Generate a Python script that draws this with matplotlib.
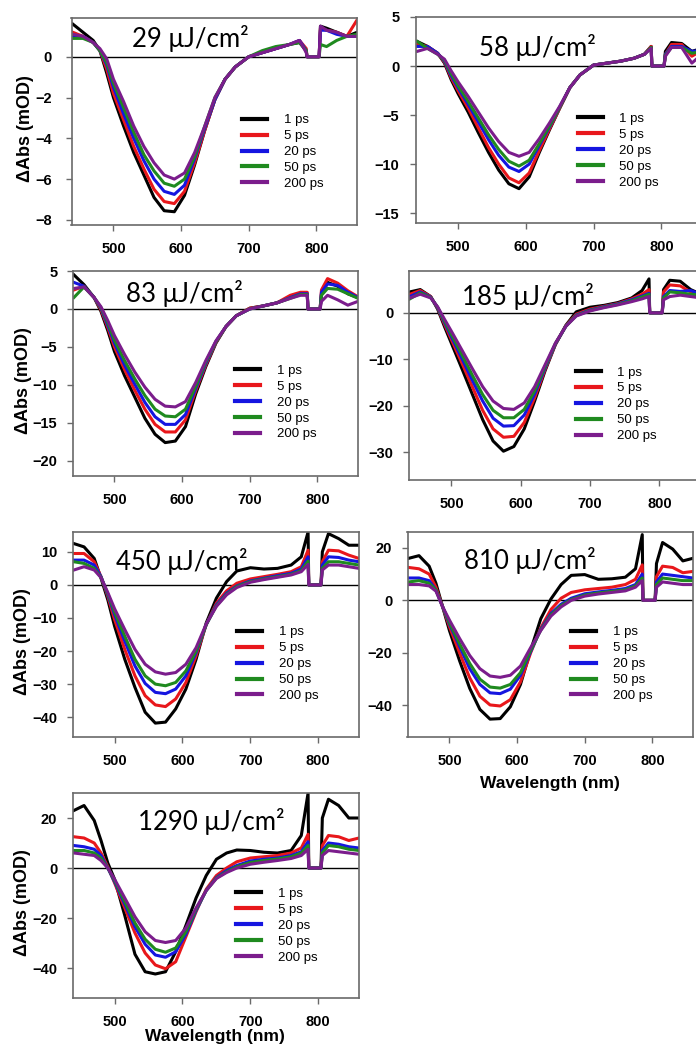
#!/usr/bin/env python3
"""Transient absorption spectra at seven pump fluences (7 panels)."""

import matplotlib

matplotlib.use("Agg")
import matplotlib.pyplot as plt

plt.rcParams["font.family"] = ["Liberation Sans", "DejaVu Sans"]

# ---- data ----
WAVELENGTH = [440, 455, 470, 480, 490, 500, 515, 530, 545, 560, 575, 590, 605,
              620, 635, 650, 665, 680, 700, 720, 740, 760, 775, 785, 786, 804,
              806, 815, 830, 845, 860]
DELAYS = ["1 ps", "5 ps", "20 ps", "50 ps", "200 ps"]
FLUENCES = [29, 58, 83, 185, 450, 810, 1290]

DA_29 = [
    [1.6, 1.2, 0.8, 0.3, -0.8, -2.0, -3.4, -4.7, -5.8, -6.9, -7.55, -7.6, -6.8, -5.3, -3.6, -2.1,
     -1.1, -0.5, 0.0, 0.2, 0.4, 0.6, 0.7, 0.3, 0.0, 0.0, 1.5, 1.4, 1.2, 1.0, 1.2],
    [1.2, 1.0, 0.7, 0.3, -0.6, -1.8, -3.1, -4.4, -5.5, -6.5, -7.1, -7.2, -6.6, -5.2, -3.6, -2.1,
     -1.1, -0.5, 0.0, 0.2, 0.4, 0.6, 0.8, 0.4, 0.0, 0.0, 1.4, 1.3, 1.2, 1.0, 1.8],
    [1.0, 1.0, 0.7, 0.3, -0.4, -1.5, -2.8, -4.0, -5.1, -6.0, -6.6, -6.75, -6.3, -5.0, -3.5, -2.1,
     -1.1, -0.5, 0.0, 0.2, 0.4, 0.6, 0.8, 0.3, 0.0, 0.0, 1.3, 1.3, 1.1, 1.0, 1.0],
    [0.9, 0.9, 0.7, 0.3, -0.3, -1.3, -2.5, -3.7, -4.8, -5.6, -6.2, -6.35, -6.0, -4.9, -3.4, -2.0,
     -1.1, -0.5, 0.0, 0.3, 0.5, 0.6, 0.7, 0.3, 0.0, 0.0, 0.6, 0.5, 0.8, 1.0, 1.1],
    [1.1, 1.0, 0.7, 0.4, -0.1, -1.1, -2.2, -3.4, -4.4, -5.2, -5.8, -6.0, -5.7, -4.7, -3.4, -2.0,
     -1.1, -0.5, 0.0, 0.2, 0.4, 0.6, 0.8, 0.2, 0.0, 0.0, 1.5, 1.3, 1.2, 1.0, 1.0],
]
DA_58 = [
    [2.5, 2.0, 1.3, 0.3, -1.4, -2.8, -4.7, -6.8, -8.8, -10.6, -12.0, -12.5, -11.3, -8.8, -6.5, -4.3,
     -2.2, -0.9, 0.1, 0.3, 0.5, 0.8, 1.2, 2.0, 0.0, 0.0, 1.5, 2.4, 2.3, 1.5, 1.8],
    [2.2, 2.0, 1.3, 0.4, -1.2, -2.5, -4.3, -6.3, -8.3, -10.0, -11.4, -11.9, -10.9, -8.6, -6.4, -4.3,
     -2.2, -0.9, 0.1, 0.3, 0.5, 0.8, 1.2, 2.0, 0.0, 0.0, 1.2, 2.2, 2.2, 1.0, 1.6],
    [2.0, 2.0, 1.3, 0.5, -1.0, -2.2, -3.9, -5.7, -7.5, -9.1, -10.3, -10.75, -10.0, -8.1, -6.2, -4.2,
     -2.2, -0.9, 0.1, 0.3, 0.5, 0.8, 1.2, 1.9, 0.0, 0.0, 1.2, 2.0, 2.0, 1.5, 1.6],
    [2.5, 1.8, 1.2, 0.6, -0.8, -2.0, -3.6, -5.3, -7.0, -8.5, -9.7, -10.2, -9.6, -7.9, -6.1, -4.2,
     -2.2, -0.9, 0.1, 0.3, 0.5, 0.8, 1.2, 1.9, 0.0, 0.0, 1.1, 1.9, 1.9, 1.3, 1.5],
    [1.5, 1.8, 1.2, 0.7, -0.5, -1.6, -3.1, -4.7, -6.3, -7.7, -8.8, -9.2, -8.8, -7.4, -5.8, -4.1,
     -2.2, -0.9, 0.1, 0.3, 0.5, 0.8, 1.2, 1.8, 0.0, 0.0, 1.0, 1.9, 1.9, 0.3, 1.2],
]
DA_83 = [
    [4.5, 3.2, 1.5, -0.3, -2.8, -5.6, -8.8, -11.6, -14.4, -16.5, -17.6, -17.4, -15.5, -11.2, -7.6, -4.5,
     -2.3, -0.9, 0.1, 0.4, 0.8, 1.5, 2.0, 2.0, 0.0, 0.0, 2.0, 3.5, 3.0, 2.0, 1.5],
    [2.5, 3.0, 1.5, -0.1, -2.4, -5.0, -8.0, -10.7, -13.2, -15.2, -16.2, -16.2, -14.6, -10.8, -7.4, -4.4,
     -2.3, -0.9, 0.1, 0.4, 0.8, 1.8, 2.2, 2.2, 0.0, 0.0, 2.5, 4.0, 3.4, 2.4, 1.6],
    [3.5, 3.0, 1.5, 0.1, -2.1, -4.5, -7.4, -9.9, -12.3, -14.2, -15.2, -15.2, -13.9, -10.5, -7.2, -4.3,
     -2.3, -0.9, 0.0, 0.4, 0.8, 1.5, 2.0, 2.0, 0.0, 0.0, 2.2, 3.3, 3.1, 2.2, 1.5],
    [1.5, 2.9, 1.5, 0.2, -1.8, -4.1, -6.8, -9.2, -11.4, -13.2, -14.1, -14.2, -13.2, -10.2, -7.0, -4.3,
     -2.3, -0.9, 0.0, 0.4, 0.8, 1.4, 1.9, 1.9, 0.0, 0.0, 1.8, 2.7, 2.6, 2.0, 1.4],
    [2.7, 2.9, 1.5, 0.3, -1.5, -3.5, -6.0, -8.3, -10.3, -11.9, -12.8, -12.9, -12.2, -9.7, -6.8, -4.2,
     -2.3, -0.9, 0.0, 0.4, 0.8, 1.4, 1.8, 1.8, 0.0, 0.0, 1.0, 1.8, 1.2, 0.5, 1.0],
]
DA_185 = [
    [4.5, 5.0, 3.5, 0.8, -3.0, -6.6, -12.0, -17.5, -23.0, -27.6, -29.8, -28.8, -25.0, -19.0, -12.5, -6.8,
     -2.7, 0.2, 1.2, 1.6, 2.2, 3.2, 4.8, 7.3, 0.0, 0.0, 5.0, 7.0, 6.8, 5.0, 4.0],
    [4.0, 4.8, 3.5, 1.0, -2.5, -5.8, -10.8, -15.9, -21.0, -25.0, -26.8, -26.6, -23.6, -18.3, -12.2, -6.8,
     -2.8, -0.3, 0.8, 1.4, 2.0, 3.0, 4.0, 5.0, 0.0, 0.0, 4.5, 6.0, 5.8, 4.5, 4.0],
    [3.5, 4.5, 3.4, 1.1, -2.1, -5.2, -9.8, -14.5, -19.0, -22.7, -24.4, -24.3, -22.0, -17.5, -11.9, -6.7,
     -2.9, -0.5, 0.6, 1.3, 1.9, 2.8, 3.6, 4.2, 0.0, 0.0, 3.5, 4.8, 4.6, 4.8, 4.0],
    [3.0, 4.3, 3.3, 1.2, -1.8, -4.7, -9.0, -13.4, -17.6, -21.0, -22.6, -22.6, -20.8, -16.8, -11.6, -6.6,
     -2.9, -0.6, 0.5, 1.2, 1.8, 2.6, 3.4, 4.0, 0.0, 0.0, 3.2, 4.5, 4.3, 4.0, 3.8],
    [3.2, 4.0, 3.2, 1.3, -1.4, -4.0, -8.0, -12.0, -15.9, -19.0, -20.6, -20.8, -19.4, -15.9, -11.2, -6.5,
     -2.9, -0.7, 0.4, 1.1, 1.7, 2.4, 3.0, 3.5, 0.0, 0.0, 2.8, 3.5, 3.8, 3.5, 3.2],
]
DA_450 = [
    [12.5, 11.5, 8.0, 2.0, -4.5, -12.5, -22.5, -31.0, -38.5, -41.8, -41.5, -37.5, -31.5, -22.5, -11.5, -4.0,
     1.0, 4.2, 5.2, 4.8, 5.0, 6.0, 8.5, 16.0, 0.0, 0.0, 10.0, 15.5, 14.0, 12.0, 12.0],
    [9.5, 9.5, 7.0, 2.5, -3.5, -10.5, -19.5, -27.5, -33.5, -36.3, -36.8, -34.5, -29.5, -21.5, -12.0, -5.5,
     -1.8, 0.5, 1.8, 2.5, 3.2, 4.0, 5.5, 10.5, 0.0, 0.0, 7.0, 10.5, 10.3, 9.0, 8.0],
    [7.5, 7.5, 6.0, 2.5, -3.0, -9.0, -17.0, -24.5, -29.8, -32.5, -32.9, -31.5, -27.5, -20.5, -12.0, -6.0,
     -2.5, -0.3, 1.2, 2.0, 2.8, 3.5, 4.8, 8.5, 0.0, 0.0, 6.0, 8.5, 8.3, 7.5, 7.0],
    [7.0, 6.5, 5.0, 2.3, -2.7, -8.2, -15.5, -22.5, -27.5, -30.0, -30.5, -29.5, -26.0, -20.0, -12.0, -6.3,
     -2.8, -0.5, 1.0, 1.8, 2.5, 3.2, 4.3, 7.2, 0.0, 0.0, 5.0, 7.0, 7.0, 6.5, 6.0],
    [4.5, 5.5, 4.5, 2.2, -2.3, -7.2, -13.5, -19.5, -24.0, -26.3, -27.0, -26.5, -24.0, -19.0, -11.8, -6.5,
     -3.0, -0.8, 0.8, 1.6, 2.3, 3.0, 4.0, 6.2, 0.0, 0.0, 4.5, 6.0, 6.0, 5.5, 5.0],
]
DA_810 = [
    [16.0, 17.0, 13.0, 6.5, -2.5, -11.5, -23.0, -33.5, -41.5, -45.2, -45.0, -40.5, -32.0, -19.0, -7.0, 0.5,
     6.0, 9.5, 9.8, 8.0, 8.2, 8.8, 12.0, 25.0, 0.0, 0.0, 14.0, 22.0, 19.5, 15.0, 16.0],
    [12.5, 12.0, 10.0, 5.0, -2.5, -10.0, -20.0, -29.5, -36.5, -39.8, -40.2, -37.8, -31.0, -20.0, -10.5, -3.5,
     0.8, 3.0, 4.0, 4.5, 5.0, 6.0, 8.0, 13.5, 0.0, 0.0, 9.0, 13.0, 12.5, 10.5, 11.0],
    [8.5, 8.5, 7.5, 4.0, -2.5, -9.0, -17.5, -26.0, -32.0, -35.2, -35.5, -33.8, -28.5, -19.5, -11.0, -5.0,
     -1.5, 0.8, 2.5, 3.2, 3.8, 4.5, 6.0, 10.0, 0.0, 0.0, 7.0, 10.0, 9.5, 9.0, 8.5],
    [7.0, 7.5, 6.5, 4.0, -2.5, -8.5, -16.5, -24.0, -30.0, -33.0, -33.4, -32.0, -27.5, -19.0, -11.3, -5.5,
     -2.0, 0.3, 2.0, 2.8, 3.4, 4.0, 5.5, 8.5, 0.0, 0.0, 6.0, 8.5, 8.0, 7.5, 7.5],
    [6.0, 6.0, 5.5, 3.5, -2.5, -7.5, -14.5, -21.0, -26.0, -28.8, -29.3, -28.5, -25.0, -18.0, -11.5, -6.0,
     -2.5, 0.0, 1.6, 2.4, 3.0, 3.6, 5.0, 7.5, 0.0, 0.0, 5.0, 7.0, 6.5, 6.0, 6.0],
]
DA_1290 = [
    [23.0, 25.0, 19.0, 11.0, 2.0, -4.5, -19.0, -34.5, -41.5, -42.4, -41.5, -33.5, -23.0, -12.0, -3.0, 3.5,
     6.0, 7.2, 7.0, 6.3, 6.0, 7.0, 13.0, 30.0, 0.0, 0.0, 20.0, 27.5, 25.0, 20.0, 20.0],
    [12.5, 12.0, 10.0, 6.0, 0.5, -6.0, -16.0, -26.0, -34.0, -38.8, -40.3, -37.5, -27.5, -17.5, -8.5, -3.0,
     0.0, 2.5, 4.0, 4.5, 5.0, 6.0, 8.0, 13.5, 0.0, 0.0, 9.0, 13.0, 12.5, 11.0, 12.0],
    [9.0, 8.5, 7.5, 5.0, 0.0, -5.5, -14.5, -23.5, -30.5, -34.8, -35.7, -33.5, -26.5, -17.0, -9.0, -3.8,
     -1.0, 1.0, 2.8, 3.5, 4.0, 5.0, 6.5, 10.5, 0.0, 0.0, 7.0, 10.0, 9.5, 8.5, 8.0],
    [7.0, 7.0, 6.0, 4.0, 0.0, -5.0, -13.5, -22.0, -28.5, -32.5, -33.7, -32.0, -25.5, -16.5, -9.0, -4.0,
     -1.5, 0.5, 2.2, 3.0, 3.6, 4.5, 6.0, 9.0, 0.0, 0.0, 6.0, 9.0, 8.5, 7.5, 7.0],
    [6.0, 5.5, 5.0, 3.0, 0.0, -4.5, -12.0, -19.5, -25.5, -29.0, -29.8, -29.0, -24.0, -16.0, -9.0, -4.2,
     -1.8, 0.0, 1.5, 2.3, 3.0, 3.8, 5.0, 7.5, 0.0, 0.0, 5.0, 7.0, 6.5, 6.0, 5.5],
]
PANEL_DATA = [DA_29, DA_58, DA_83, DA_185, DA_450, DA_810, DA_1290]

XTICKS = [500, 600, 700, 800]
YTICKS = [
    [0, -2, -4, -6, -8],
    [5, 0, -5, -10, -15],
    [5, 0, -5, -10, -15, -20],
    [0, -10, -20, -30],
    [10, 0, -10, -20, -30, -40],
    [20, 0, -20, -40],
    [20, 0, -20, -40],
]

# ---- styling / layout ----
COLORS = ["#000000", "#e8171b", "#1515e0", "#1f8a1f", "#7b1d8c"]
W, H = 696, 1057
# axes boxes in pixels: (left, top, right, bottom)
BOXES = [
    (71.5, 18, 357, 225),
    (416, 17, 702, 223),
    (72.5, 271, 358, 476),
    (408.5, 271, 701, 480),
    (72.5, 532, 359, 737),
    (407.5, 532, 693, 737),
    (72.5, 793, 359, 998),
]
YLIMS = [(-8.25, 1.9), (-16, 5), (-22, 5), (-36, 9), (-46, 16), (-52, 26), (-52, 30)]
TITLE_POS = [(0.415, 0.90), (0.425, 0.85), (0.393, 0.89), (0.407, 0.877),
             (0.382, 0.855), (0.429, 0.862), (0.483, 0.86)]
LEGEND_POS = [(0.597, 0.536), (0.566, 0.535), (0.569, 0.544), (0.572, 0.544),
              (0.575, 0.541), (0.574, 0.541), (0.571, 0.538)]
YPAD = [10, 8, 7, 7, 7, 7, 7]
YLABEL_X = [-0.16, None, -0.172, None, -0.175, None, -0.175]

fig = plt.figure(figsize=(W / 100, H / 100), dpi=100)

for i, data in enumerate(PANEL_DATA):
    x0, y0, x1, y1 = BOXES[i]
    ax = fig.add_axes([x0 / W, 1 - y1 / H, (x1 - x0) / W, (y1 - y0) / H])

    ax.axhline(0, color="black", lw=1.0, zorder=1)
    for series, color, label in zip(data, COLORS, DELAYS):
        ax.plot(WAVELENGTH, series, color=color, lw=2.2, label=label,
                zorder=2, solid_joinstyle="round")

    ax.set_xlim(438, 860)
    ax.set_ylim(*YLIMS[i])
    ax.set_xticks(XTICKS)
    ax.set_yticks(YTICKS[i])
    ax.tick_params(axis="both", direction="out", length=4, width=1,
                   color="#6a6a6a", labelsize=10.5)
    ax.tick_params(axis="x", pad=8)
    ax.tick_params(axis="y", pad=YPAD[i])
    for lab in ax.get_xticklabels() + ax.get_yticklabels():
        lab.set_fontweight("bold")
    for sp in ax.spines.values():
        sp.set_color("#6a6a6a")
        sp.set_linewidth(1.2)

    tx, ty = TITLE_POS[i]
    ax.text(tx, ty, f"{FLUENCES[i]} μJ/cm²", transform=ax.transAxes,
            ha="center", va="center", fontsize=18.5, family="Lato")

    leg = ax.legend(loc="upper left", bbox_to_anchor=LEGEND_POS[i],
                    frameon=False, fontsize=9.5, borderpad=0, borderaxespad=0,
                    handlelength=1.9, handletextpad=1.25, labelspacing=0.28)
    for h in leg.get_lines():
        h.set_linewidth(3)

    if YLABEL_X[i] is not None:
        ax.text(YLABEL_X[i], 0.465, "ΔAbs (mOD)", transform=ax.transAxes,
                rotation=90, ha="center", va="center", fontsize=13,
                fontweight="bold")
    if i == 5:
        ax.text(0.5, -0.229, "Wavelength (nm)", transform=ax.transAxes,
                ha="center", va="center", fontsize=12.5, fontweight="bold")
    if i == 6:
        ax.text(0.497, -0.19, "Wavelength (nm)", transform=ax.transAxes,
                ha="center", va="center", fontsize=12.5, fontweight="bold")

fig.savefig("out.png", dpi=100)
